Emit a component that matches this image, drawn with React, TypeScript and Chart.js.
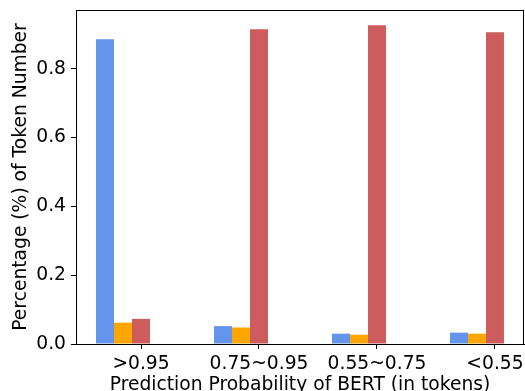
import React, { useEffect, useRef } from "react";
import { Chart, registerables } from "chart.js";

Chart.register(...registerables);

const categories = [">0.95", "0.75~0.95", "0.55~0.75", "<0.55"];
const blueValues = [0.886, 0.052, 0.03, 0.033];
const orangeValues = [0.062, 0.048, 0.027, 0.03];
const redValues = [0.073, 0.915, 0.927, 0.906];
const yTicks = [0, 0.2, 0.4, 0.6, 0.8];
const xLabel = "Prediction Probability of BERT (in tokens)";
const yLabel = "Percentage (%) of Token Number";

const toPoints = (vals: number[]) => vals.map((v, i) => ({ x: i, y: v }));

const framePlugin = {
  id: "frame",
  afterDatasetsDraw(chart: any) {
    const { ctx, chartArea } = chart;
    ctx.save();
    ctx.strokeStyle = "#000";
    ctx.lineWidth = 1;
    ctx.strokeRect(
      Math.round(chartArea.left) + 0.5,
      Math.round(chartArea.top) + 0.5,
      Math.round(chartArea.right - chartArea.left) - 1,
      Math.round(chartArea.bottom - chartArea.top)
    );
    ctx.restore();
  },
};

export default function App() {
  const ref = useRef<HTMLCanvasElement | null>(null);

  useEffect(() => {
    document.body.style.margin = "0";
    const canvas = ref.current;
    if (!canvas) return;
    const font = { family: "DejaVu Sans", size: 18.7 };
    const chart = new Chart(canvas, {
      type: "bar",
      data: {
        datasets: [
          { label: "a", data: toPoints(blueValues), backgroundColor: "#6495ED" },
          { label: "b", data: toPoints(orangeValues), backgroundColor: "#FFA500" },
          { label: "c", data: toPoints(redValues), backgroundColor: "#CD5C5C" },
          { label: "", data: [], backgroundColor: "rgba(0,0,0,0)" },
          { label: "", data: [], backgroundColor: "rgba(0,0,0,0)" },
        ],
      },
      options: {
        animation: false,
        responsive: false,
        devicePixelRatio: 1,
        layout: { padding: { top: 10, right: 1, left: 0, bottom: 0 } },
        plugins: { legend: { display: false }, tooltip: { enabled: false } },
        datasets: { bar: { categoryPercentage: 0.763, barPercentage: 1, borderWidth: 0 } },
        scales: {
          x: {
            type: "linear",
            min: -0.551,
            max: 3.246,
            offset: false,
            afterBuildTicks: (s: any) => {
              s.ticks = categories.map((_, i) => ({ value: i }));
            },
            afterFit: (s: any) => {
              s.height = 47;
              s.paddingLeft = 0;
              s.paddingRight = 0;
            },
            grid: {
              display: true,
              offset: false,
              drawOnChartArea: false,
              drawTicks: true,
              tickLength: 5,
              color: "#000",
            },
            border: { display: true, color: "#000", width: 1 },
            ticks: {
              autoSkip: false,
              maxRotation: 0,
              padding: 4,
              color: "#000",
              font,
              callback: (v: any) => categories[Math.round(Number(v))] ?? "",
            },
            title: {
              display: true,
              text: xLabel,
              color: "#000",
              font,
              padding: { top: 0, bottom: -5 },
            },
          },
          y: {
            type: "linear",
            min: 0,
            max: 0.971,
            afterBuildTicks: (s: any) => {
              s.ticks = yTicks.map((v) => ({ value: v }));
            },
            afterFit: (s: any) => {
              s.width = 76;
              s.paddingTop = 0;
              s.paddingBottom = 0;
            },
            grid: {
              display: true,
              drawOnChartArea: false,
              drawTicks: true,
              tickLength: 5,
              color: "#000",
            },
            border: { display: true, color: "#000", width: 1 },
            ticks: {
              padding: 5,
              color: "#000",
              font,
              callback: (v: any) => Number(v).toFixed(1),
            },
            title: {
              display: true,
              text: yLabel,
              color: "#000",
              font,
              padding: { top: 10, bottom: 0 },
            },
          },
        },
      },
      plugins: [framePlugin],
    } as any);
    return () => chart.destroy();
  }, []);

  return (
    <div style={{ position: "fixed", left: 0, top: 0, width: 525, height: 391, background: "#fff" }}>
      <canvas ref={ref} width={525} height={391} style={{ width: 525, height: 391 }} />
    </div>
  );
}
